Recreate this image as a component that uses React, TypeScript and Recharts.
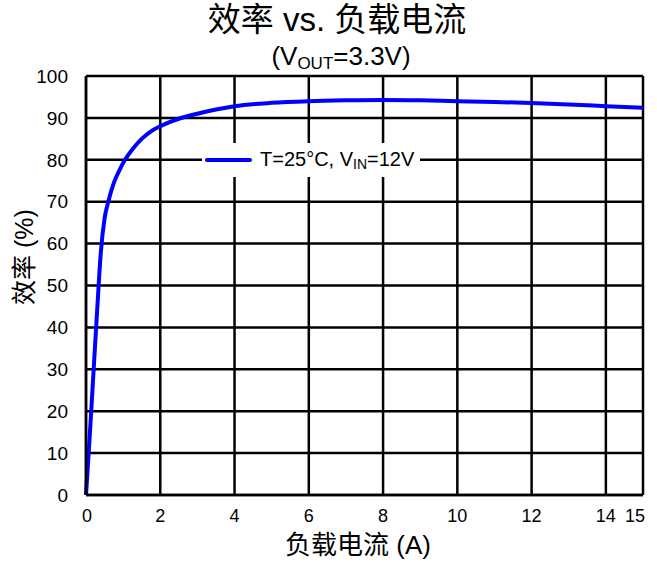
import { LineChart, Line, XAxis, YAxis, CartesianGrid, Legend } from "recharts";

const loadCurrent = [0, 0.1, 0.2, 0.3, 0.4, 0.5, 0.6, 0.75, 0.9, 1.05, 1.25, 1.5, 1.75, 2, 2.25, 2.5, 3, 3.5, 4, 5, 6, 7, 8, 9, 10, 11, 12, 13, 14, 15];
const efficiency = [0, 14, 29, 44, 58, 66, 70, 74.5, 77.5, 80, 82.5, 85, 86.8, 88, 89, 89.8, 91, 92, 92.8, 93.6, 94, 94.2, 94.3, 94.2, 94, 93.8, 93.55, 93.2, 92.8, 92.4];
const xTicks = [0, 2, 4, 6, 8, 10, 12, 14, 15];
const yTicks = [0, 10, 20, 30, 40, 50, 60, 70, 80, 90, 100];

const data = loadCurrent.map((x, i) => ({ x, eff: efficiency[i] }));

const FONT = '"Liberation Sans", Arial, "Noto Sans CJK SC", sans-serif';

const LegendBox = () => (
  <div
    style={{
      background: "#fff",
      width: 218,
      height: 34,
      display: "flex",
      alignItems: "center",
      fontFamily: FONT,
      fontSize: 20,
      color: "#000",
      whiteSpace: "nowrap",
    }}
  >
    <svg width={58} height={10}>
      <line x1={5} y1={5} x2={48} y2={5} stroke="#0000ff" strokeWidth={4} strokeLinecap="round" />
    </svg>
    <span>
      T=25°C, V<sub style={{ fontSize: 14, verticalAlign: -3 }}>IN</sub>=12V
    </span>
  </div>
);

const XTick = (props: any) => {
  const { x, y, payload } = props;
  const v = payload.value;
  const anchor = v === 15 ? "end" : v === 0 ? "start" : "middle";
  const dx = v === 15 ? 2 : v === 0 ? -4 : 0;
  return (
    <text x={x + dx} y={y} dy={17} textAnchor={anchor} fill="#000" fontSize={18} fontFamily={FONT}>
      {v}
    </text>
  );
};

export default function App() {
  return (
    <div style={{ position: "absolute", left: 0, top: 0, width: 657, height: 563, background: "#fff", fontFamily: FONT }}>
      <div style={{ position: "absolute", left: 0, width: 674, top: 0, textAlign: "center", fontSize: 33, lineHeight: "40px" }}>
        效率 vs. 负载电流
      </div>
      <div style={{ position: "absolute", left: 0, width: 682, top: 40, textAlign: "center", fontSize: 26, lineHeight: "32px" }}>
        (V<sub style={{ fontSize: 17, verticalAlign: -4 }}>OUT</sub>=3.3V)
      </div>
      <div
        style={{
          position: "absolute",
          left: 22,
          top: 257,
          transform: "translate(-50%, -50%) rotate(-90deg)",
          fontSize: 25,
          whiteSpace: "nowrap",
        }}
      >
        效率 (%)
      </div>
      <div style={{ position: "absolute", left: 0, width: 716, top: 524, textAlign: "center", fontSize: 26 }}>
        负载电流 (A)
      </div>
      <LineChart width={657} height={563} data={data} margin={{ top: 76, right: 14, bottom: 0, left: 0 }}>
        <CartesianGrid stroke="#000" strokeWidth={2.5} horizontalValues={yTicks} verticalValues={xTicks} />
        <XAxis
          dataKey="x"
          type="number"
          domain={[0, 15]}
          ticks={xTicks}
          interval={0}
          height={68}
          axisLine={{ stroke: "#000", strokeWidth: 2.5 }}
          tickLine={false}
          tick={<XTick />}
          tickMargin={4}
        />
        <YAxis
          type="number"
          domain={[0, 100]}
          ticks={yTicks}
          interval={0}
          width={86}
          axisLine={{ stroke: "#000", strokeWidth: 2.5 }}
          tickLine={false}
          tick={{ fill: "#000", fontSize: 19, fontFamily: FONT }}
          tickMargin={12}
        />
        <Legend
          layout="horizontal"
          verticalAlign="middle"
          align="center"
          content={() => <LegendBox />}
          wrapperStyle={{ position: "absolute", left: 202, top: 143, width: 218, height: 34 }}
        />
        <Line
          type="monotone"
          dataKey="eff"
          stroke="#0000ff"
          strokeWidth={4}
          dot={false}
          isAnimationActive={false}
        />
      </LineChart>
    </div>
  );
}
